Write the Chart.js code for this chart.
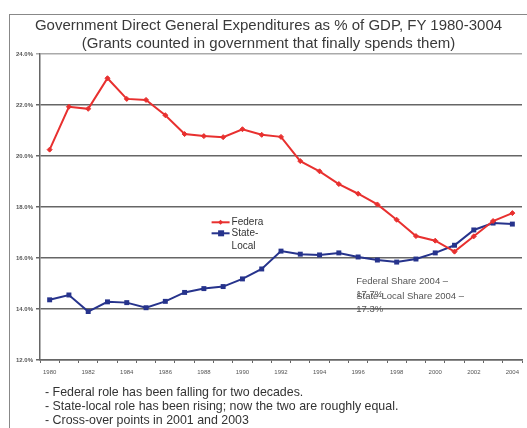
<!DOCTYPE html>
<html><head><meta charset="utf-8">
<script src="https://cdn.jsdelivr.net/npm/chart.js@4"></script>
<style>
html,body{margin:0;padding:0;background:#fff;overflow:hidden}
#wrap{position:relative;width:527px;height:428px;font-family:"Liberation Sans",Arial,sans-serif}
#frame{position:absolute;left:9px;top:14px;width:530px;height:430px;border-left:1.5px solid #888;border-top:1.5px solid #888}
#title{position:absolute;left:10px;width:517px;top:16px;text-align:center;font-size:15px;line-height:18px;color:#3a3a3a}
#foot{position:absolute;left:45px;top:385px;font-size:12.4px;line-height:14px;color:#333}
canvas{position:absolute;left:0;top:0}
</style></head>
<body><div id="wrap">
<div id="frame"></div>
<canvas id="c" width="527" height="428"></canvas>
<div id="title">Government Direct General Expenditures as % of GDP, FY 1980-3004<br>(Grants counted in government that finally spends them)</div>
<div id="foot">- Federal role has been falling for two decades.<br>- State-local role has been rising; now the two are roughly equal.<br>- Cross-over points in 2001 and 2003</div>
</div>
<script>
const years = ["1980","1981","1982","1983","1984","1985","1986","1987","1988","1989","1990","1991","1992","1993","1994","1995","1996","1997","1998","1999","2000","2001","2002","2003","2004"];
const federal = [20.25,21.93,21.85,23.05,22.24,22.2,21.6,20.86,20.78,20.74,21.05,20.83,20.75,19.8,19.4,18.9,18.52,18.1,17.5,16.86,16.68,16.25,16.85,17.45,17.76];
const stateLocal = [14.36,14.55,13.9,14.28,14.25,14.05,14.3,14.65,14.8,14.88,15.18,15.57,16.27,16.15,16.12,16.2,16.04,15.92,15.84,15.96,16.2,16.5,17.1,17.37,17.33];
const yTicks = [12,14,16,18,20,22,24];
const legendLabels = [["Federa"],["State-","Local"]];
const noteLines = [["Federal Share 2004 \u2013","17.7%"],["State-Local Share 2004 \u2013","17.3%"]];

const overlay = {
  id:'overlay',
  afterDatasetsDraw(chart){
    const ctx = chart.ctx, x = chart.scales.x, y = chart.scales.y;
    ctx.save();
    ctx.font = '10px "Liberation Sans", Arial, sans-serif';
    ctx.textBaseline = 'middle';
    const lx = x.getPixelForValue(8.4), ly = y.getPixelForValue(17.4);
    chart.data.datasets.forEach((ds,i)=>{
      const yy = ly + i*11;
      ctx.strokeStyle = ds.borderColor; ctx.lineWidth = 2;
      ctx.beginPath(); ctx.moveTo(lx, yy); ctx.lineTo(lx+18, yy); ctx.stroke();
      ctx.fillStyle = ds.borderColor;
      if(i===0){ ctx.beginPath(); ctx.moveTo(lx+9,yy-2.5);ctx.lineTo(lx+11.5,yy);ctx.lineTo(lx+9,yy+2.5);ctx.lineTo(lx+6.5,yy);ctx.closePath();ctx.fill(); }
      else { ctx.fillRect(lx+6.5,yy-3,6,6); }
      ctx.fillStyle = '#333';
      legendLabels[i].forEach((t,j)=>ctx.fillText(t, lx+20, yy+j*13));
    });
    ctx.font = '9.5px "Liberation Sans", Arial, sans-serif';
    ctx.fillStyle = '#555';
    const nx = x.getPixelForValue(15.9), ny = y.getPixelForValue(15.1);
    noteLines.forEach((lines,i)=>{
      lines.forEach((t,j)=>ctx.fillText(t, nx, ny + i*15 + j*13));
    });
    ctx.restore();
  }
};

new Chart(document.getElementById('c'), {
  type:'line',
  data:{
    labels: years,
    datasets:[
      {label:'Federal', data:federal, borderColor:'#e8302f', backgroundColor:'#e8302f', borderWidth:2, pointStyle:'rectRot', pointRadius:2.5, pointBorderWidth:1, tension:0},
      {label:'State-Local', data:stateLocal, borderColor:'#26338c', backgroundColor:'#26338c', borderWidth:2, pointStyle:'rect', pointRadius:3.5, pointBorderWidth:0, tension:0}
    ]
  },
  options:{
    responsive:false, animation:false,
    layout:{padding:{top:54,left:0,right:3,bottom:48}},
    plugins:{legend:{display:false},title:{display:false},tooltip:{enabled:false}},
    scales:{
      x:{
        offset:true,
        grid:{offset:true, drawOnChartArea:false, drawTicks:true, tickLength:3, color:'#666', lineWidth:1},
        border:{color:'#666', width:1.5},
        ticks:{autoSkip:false, maxRotation:0, minRotation:0, padding:6, color:'#555', font:{size:6, family:'"Liberation Sans", Arial, sans-serif'},
          callback:(v,i)=> i%2===0 ? years[i] : ''},
        afterFit:(s)=>{s.height=20;}
      },
      y:{
        min:12, max:24,
        afterBuildTicks:(s)=>{s.ticks = yTicks.map(v=>({value:v}));},
        grid:{color:(c)=> c.tick && c.tick.value===24 ? '#aaa' : '#666', lineWidth:1.5, tickLength:4, drawTicks:true},
        border:{color:'#666', width:1.5},
        ticks:{padding:3, color:'#555', font:{size:6, weight:'bold', family:'"Liberation Sans", Arial, sans-serif'},
          callback:(v)=> v.toFixed(1)+'%'},
        afterFit:(s)=>{s.width=40;}
      }
    }
  },
  plugins:[overlay]
});
</script>
</body></html>
